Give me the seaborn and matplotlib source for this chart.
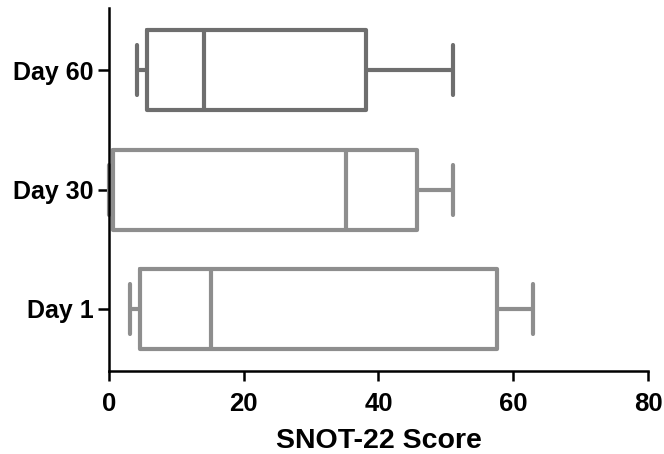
import matplotlib
matplotlib.use("Agg")
import matplotlib.pyplot as plt
import seaborn as sns
import pandas as pd
import numpy as np

# five-number summaries (min, Q1, median, Q3, max)
days = ["Day 60", "Day 30", "Day 1"]
day60 = [4.1, 5.6, 14.1, 38.1, 51.0]
day30 = [0.0, 0.6, 35.2, 45.7, 51.0]
day1 = [3.1, 4.6, 15.1, 57.6, 63.0]
colors = {"Day 60": "#6e6e6e", "Day 30": "#8e8e8e", "Day 1": "#8e8e8e"}
xticks = [0, 20, 40, 60, 80]

rows = []
for d, vals in zip(days, [day60, day30, day1]):
    for v in vals:
        rows.append({"Day": d, "Score": v})
df = pd.DataFrame(rows)

sns.set_theme(style="ticks")
plt.rcParams["font.family"] = ["Liberation Sans", "DejaVu Sans"]

fig = plt.figure(figsize=(6.64, 4.54), dpi=100)
ax = fig.add_axes([0.164, 0.183, 0.812, 0.799])

sns.boxplot(data=df, x="Score", y="Day", hue="Day", order=days, hue_order=days,
            palette=colors, fill=False, whis=(0, 100), width=0.67,
            linewidth=3, legend=False, ax=ax,
            boxprops={"solid_joinstyle": "round"})

# enlarge whisker caps to match reference proportions
for ln in ax.lines:
    xd = np.asarray(ln.get_xdata(), dtype=float)
    yd = np.asarray(ln.get_ydata(), dtype=float)
    if len(xd) == 2 and xd[0] == xd[1] and abs(yd[1] - yd[0]) < 0.5:
        c = yd.mean()
        ln.set_ydata(c + (yd - c) * 1.25)
    ln.set_clip_on(False)

ax.set_xlim(0, 80)
ax.set_ylim(2.52, -0.52)
ax.set_xticks(xticks)
ax.set_xticklabels([str(t) for t in xticks], fontsize=18.5, fontweight="bold", color="black")
ax.set_yticks(range(len(days)))
ax.set_yticklabels(days, fontsize=18, fontweight="bold", color="black")
ax.set_xlabel("SNOT-22 Score", fontsize=20.5, fontweight="bold", labelpad=9, color="black")
ax.set_ylabel("")
for s in ["top", "right"]:
    ax.spines[s].set_visible(False)
for s in ["left", "bottom"]:
    ax.spines[s].set_linewidth(1.8)
    ax.spines[s].set_color("black")
ax.tick_params(axis="both", width=1.8, color="black")
ax.tick_params(axis="x", length=7, pad=8)
ax.tick_params(axis="y", length=8, pad=3)

fig.savefig("out.png", dpi=100)
